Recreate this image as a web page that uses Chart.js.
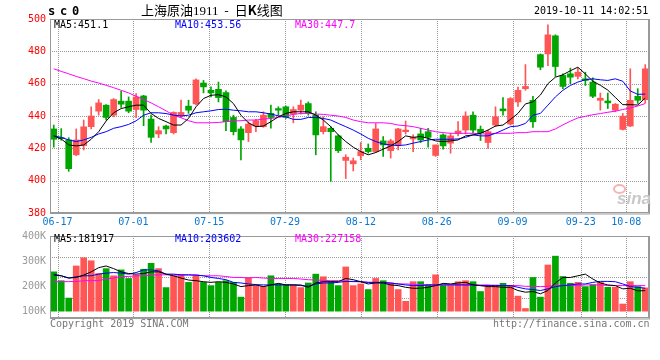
<!DOCTYPE html>
<html>
<head>
<meta charset="utf-8">
<script src="https://cdn.jsdelivr.net/npm/chart.js@4.4.1/dist/chart.umd.min.js"></script>
<style>
body { margin: 0; background: #fff; }
#wrap { position: relative; width: 660px; height: 360px; overflow: hidden; }
#wrap canvas { position: absolute; left: 0; }
.txt { position: absolute; white-space: nowrap; font-family: "DejaVu Sans Mono", monospace; font-size: 10px; line-height: 10px; }
</style>
</head>
<body>
<div id="wrap">
  <canvas id="kline" width="660" height="228" style="top:0"></canvas>
  <canvas id="vol" width="660" height="114" style="top:226px"></canvas>

  <div class="txt" style="left:48px;top:5px;font-size:12px;line-height:12px;font-weight:bold;letter-spacing:4.8px">sc0</div>
  <div class="txt" style="left:141px;top:3px;font-family:'Noto Sans CJK SC';font-size:13px;line-height:14px">上海原油<span style="font-family:'Liberation Serif'">1911</span> &nbsp;-&nbsp; 日<b>K</b>线图</div>
  <div class="txt" style="left:534px;top:6px">2019-10-11 14:02:51</div>

  <div class="txt" style="left:54px;top:20px;color:#000">MA5:451.1</div>
  <div class="txt" style="left:175px;top:20px;color:#0000ff">MA10:453.56</div>
  <div class="txt" style="left:295px;top:20px;color:#ff00ff">MA30:447.7</div>

  <div class="txt" style="left:54px;top:234px;color:#000">MA5:181917</div>
  <div class="txt" style="left:175px;top:234px;color:#0000ff">MA10:203602</div>
  <div class="txt" style="left:295px;top:234px;color:#ff00ff">MA30:227158</div>

  <div class="txt" style="left:50px;top:319px;color:#777">Copyright 2019 SINA.COM</div>
  <div class="txt" style="left:493px;top:319px;color:#777">http://finance.sina.com.cn</div>

  <div class="txt" style="left:613px;top:184px;width:9px;height:6px;border:2px solid #f4b4b4;border-radius:50%"></div>
  <div class="txt" style="left:617px;top:190px;font-family:'Liberation Sans';font-size:17px;line-height:17px;font-weight:bold;font-style:italic;color:#c8c8c8">sina</div>
</div>

<script>
Chart.defaults.font.family = '"DejaVu Sans Mono", monospace';
Chart.defaults.font.size = 10;

// trading days shown on the chart
const dates = ['06-14','06-17','06-18','06-19','06-20','06-21','06-24','06-25','06-26','06-27','06-28',
  '07-01','07-02','07-03','07-04','07-05','07-08','07-09','07-10','07-11','07-12','07-15','07-16','07-17',
  '07-18','07-19','07-22','07-23','07-24','07-25','07-26','07-29','07-30','07-31',
  '08-01','08-02','08-05','08-06','08-07','08-08','08-09','08-12','08-13','08-14','08-15','08-16','08-19',
  '08-20','08-21','08-22','08-23','08-26','08-27','08-28','08-29','08-30',
  '09-02','09-03','09-04','09-05','09-06','09-09','09-10','09-11','09-12','09-16','09-17','09-18','09-19',
  '09-20','09-23','09-24','09-25','09-26','09-27','09-30',
  '10-08','10-09','10-10','10-11'];
const tickDates = ['06-17','07-01','07-15','07-29','08-12','08-26','09-09','09-23','10-08'];

const open = [432,426.6,425.2,416,421.7,433.4,443,446.7,440.5,449.2,
  449.2,444,452.4,438.1,428.9,433.8,429.7,440.1,446.1,447.5,
  460.4,455.9,456.5,454.5,439.1,432,429.7,433.8,433.4,441.6,
  444.6,445.7,441.2,443.6,447.7,440.5,430.3,432.4,427.7,412.5,
  410.4,415.4,420,418,424.6,418.6,422.1,430.3,425.8,428.9,
  430.3,415.6,428.3,423.2,429.3,431.3,440.5,431.8,423.6,434.4,
  444.4,435,448.7,456.9,449.7,478,478.4,489.6,465.1,466.1,
  464.5,463,461,449.7,449.3,443.6,431.7,433.8,452.2,450.1];
const high = [434.4,432.2,426.6,432,437.5,445.7,450.2,447,450.8,455.3,
  451.8,453.9,452.8,440.5,433.4,434.4,442.6,449.8,449.8,463,
  462,458,461,455.5,440.5,433.4,436.5,437.9,442.6,446.7,
  445.7,446.1,445.7,449.8,448.7,442.6,439.5,433.4,428.3,416,
  414,423.6,422.7,435.4,427.3,425.6,432.4,436.9,428.3,432.4,
  432.4,422.1,428.9,429.3,436.5,442.6,442.6,433.8,431.3,445.7,
  451.4,451.4,457.9,471.8,452.2,478.4,496.4,490.2,466.1,469.6,
  469.6,467.1,463.6,454.2,454.2,447.7,441.6,469.2,456.9,471.8];
const low = [420.7,425,405.8,415.5,419,432,440.5,437.5,439.5,445.3,
  442,439,434,423.6,426.6,428.9,428.9,439.1,441.6,446.8,
  454.3,451.8,448.7,431,428.3,412.9,424.2,430.3,433,432.4,
  440.5,438.5,435.8,441.2,440.5,416,428.9,399.6,417.4,401.3,
  406,412.9,417,417.4,415,414,419,428.9,418,423.6,
  420.7,415,419.5,417,427.7,428.9,429.7,424.8,420,433.4,
  440.5,434.4,446,455.9,433,468.6,471.2,464.5,456.9,460,
  463,458.9,451.4,443.6,444.6,442.6,431.3,433.4,447.7,448];
const close = [425.6,426,407.4,425.2,433.3,440,448.1,439.1,450.2,447.3,
  443,451.8,443.6,426.8,430.9,432,442.2,442.2,443.6,462.3,
  458,454.3,451.4,436.5,430.3,425.2,435,437.1,440.5,439.1,
  443.6,439.1,444,446.7,442,428.3,433.4,430.3,418.6,414.5,
  412.3,418,418,432,422.1,424.6,432,431.3,426.8,425.2,
  426.8,422.1,421.5,427.7,430.7,440,431.3,429.7,430.3,439.5,
  443.2,450.8,455.9,458.3,436.4,470.2,490.2,470.6,458.3,464,
  467.1,462,452.2,451,448.1,447.3,439.9,449.7,449.7,469.2];

const ma5 = [427.7,425.8,422.1,421.5,422.1,425.6,430.3,436.9,442,444.6,
  445.7,446.7,446.7,441.6,438.5,436.5,434.4,434.4,438.5,445.7,
  450.8,452.8,453.2,451.8,447.7,440.5,435.8,433.4,433.8,436.5,
  439.5,441.6,442.6,442.6,442.6,440.5,437.5,433.4,428.3,424.2,
  420.7,418,416,417.4,419.5,421.5,424.2,427.7,426.8,427.3,
  426.2,424.6,424.2,424.6,425.2,427.7,428.3,429.3,431.3,433.8,
  434.4,437.9,441.6,447.5,448.7,453,460,464,465.5,468,
  470.2,466,461.5,459,456,451.5,447,447,446.8,451.1];
const ma10 = [427.7,426.8,425.2,424.2,425.2,426.8,428.9,430.3,432.4,433.4,
  434.8,437,440.5,442,442,441.5,440.5,440,440.5,442,
  442.6,443.2,444,444.2,443.6,443.2,442.6,442.6,442,441.2,
  440.1,439.5,437.9,437.9,439.1,439.1,438.5,437.5,435.4,433.4,
  431.3,428.9,426.2,424.2,422.7,422.1,421.7,422.1,423.2,424.2,
  425.2,425.6,425.6,425.6,425.8,426.8,428.3,427.7,427.7,429.3,
  431.3,433.4,433.8,435.4,440.5,441.6,446.7,451.8,455.9,458.9,
  461,462.4,463,462.4,462,463,461.5,455.5,453.4,453.56];
const ma30 = [469.2,467.6,466.1,464.5,463.1,461.6,460.4,459,457.5,455.9,
  454.3,452.2,450.2,448.1,445.7,443.2,440.5,438.9,437.1,435.8,
  435.8,435.8,436,436.5,436.9,437.1,437.5,437.5,438.1,438.5,
  439.1,440,441,441.6,441.6,441.2,441,440.5,440,439.1,
  437.5,436.5,435.8,435.8,435.8,435.4,434.4,434,433.4,432.4,
  431.3,430.3,429.7,429.3,429.3,429.3,429.3,428.9,428.9,429.3,
  429.3,429.3,429.7,429.7,430.3,430.3,430.3,432,434.5,436.8,
  438.8,439.8,440.8,441.5,442.3,443,444,445,446.2,447.7];

const volume = [256900,221600,152200,280400,313000,301200,250200,269800,241200,264700,
  230600,243900,267400,291000,269800,194100,241200,243900,214900,243900,
  214900,202000,214900,221600,214900,156100,234500,202000,199200,241200,
  208600,204700,204700,194100,212500,247800,237300,217600,202000,276500,
  202000,208600,186300,230600,221600,212500,186300,139200,217600,217600,
  204700,245100,202000,202000,217600,221600,217600,178400,195300,204700,
  211000,202000,160000,110600,234500,156100,284300,319600,238400,211000,
  214900,198000,205900,214900,195300,195300,128600,217600,198000,192900];
const volMa5 = [243900,241200,232200,234500,243900,256900,273700,280400,269800,256900,
  250200,247800,250200,256900,256900,247800,241200,232200,224300,221600,
  217600,214900,217600,214900,208600,198000,202000,204700,198000,204700,
  211000,204700,204700,204700,195300,212500,217600,217600,217600,230600,
  225500,217600,208600,212500,212500,204700,202000,195300,191400,191400,
  195300,202000,211000,208600,212500,214900,204700,202000,198000,198000,
  195300,195300,182400,175700,178400,169400,182400,212500,234500,234500,
  241200,247800,228200,212500,204700,202000,189000,191400,181200,181900];
const volMa10 = [247800,241200,232200,237300,241200,241200,247800,251800,254100,251800,
  247800,254100,264700,264700,260800,247800,247800,245100,245100,243900,
  241200,234500,230600,225500,214900,212500,208600,205900,204700,204700,
  204700,204700,204700,202000,199200,208600,212500,212500,214900,218800,
  218800,217600,214900,214900,214900,212500,208600,204700,202000,202000,
  204700,204700,204700,204700,204700,204700,204700,202000,202000,202000,
  202000,202000,195300,189000,186300,182400,189000,198000,202000,204700,
  208600,208600,214900,218800,218800,217600,208600,198000,195300,191400];
const volMa30 = [217600,217600,218000,218400,221600,221600,222000,228200,232200,238400,
  238400,241200,241200,243900,245100,245100,245100,243900,243900,243900,
  241200,241200,241200,238400,234500,234500,232200,234500,232200,230600,
  230600,230600,230600,228200,225500,224300,222800,221600,221600,218800,
  217600,217600,214900,214900,213700,211000,208600,208600,207300,205900,
  205300,204700,205300,205300,205300,205000,204700,204700,204700,202000,
  202000,202000,202000,199200,199200,198000,199200,202000,202000,202000,
  202000,204700,204700,204700,202000,202000,202000,202000,202000,202000];
const volTicks = [100000, 200000, 300000, 400000];

const upColor = '#ff5555';
const downColor = '#00a600';
const gridColor = '#999';
const candleColors = close.map((c, i) => c >= open[i] ? upColor : downColor);
const tickIndex = tickDates.map(d => dates.indexOf(d));

// dotted grid taken from the scales' own ticks, plus the grey panel frame
const panelGrid = {
  id: 'panelGrid',
  beforeDatasetsDraw(chart, args, opts) {
    const {ctx, chartArea: a} = chart;
    ctx.save();
    ctx.strokeStyle = gridColor;
    ctx.lineWidth = 1;
    ctx.setLineDash([1, 1]);
    ctx.beginPath();
    const ys = chart.scales[opts.yScale];
    ys.ticks.forEach(t => {
      const y = Math.round(ys.getPixelForValue(t.value)) + 0.5;
      if (y > a.top + 2 && y < a.bottom - 2) { ctx.moveTo(a.left, y); ctx.lineTo(a.right, y); }
    });
    const xs = chart.scales.xd;
    xs.ticks.forEach(t => {
      const x = Math.round(xs.getPixelForValue(t.value)) + 0.5;
      ctx.moveTo(x, a.top); ctx.lineTo(x, a.bottom);
    });
    ctx.stroke();
    ctx.restore();
  },
  afterDraw(chart) {
    const {ctx, chartArea: a} = chart;
    const l = Math.round(a.left), t = Math.round(a.top), r = Math.round(a.right), b = Math.round(a.bottom);
    ctx.save();
    ctx.strokeStyle = '#999';
    ctx.lineWidth = 1;
    ctx.strokeRect(l + 0.5, t + 0.5, r - l - 1, b - t - 1);
    ctx.beginPath();
    ctx.moveTo(r + 0.5, t);
    ctx.lineTo(r + 0.5, b + 1);
    ctx.lineTo(l, b + 0.5);
    ctx.stroke();
    ctx.restore();
  }
};

const maLine = (label, data, color) => ({
  type: 'line', label: label, data: data,
  borderColor: color, borderWidth: 1, pointRadius: 0, tension: 0, order: 0
});

// date ticks spread over the full panel width
const dateAxis = (showLabels) => ({
  type: 'linear', position: 'bottom', min: 0, max: dates.length - 1,
  bounds: 'data', offset: false,
  afterBuildTicks: (s) => { s.ticks = tickIndex.map(v => ({value: v})); },
  afterFit: (s) => { s.height = showLabels ? 15 : 0; },
  ticks: { display: showLabels, autoSkip: false, maxRotation: 0, padding: 3, color: '#0a78d2',
    callback: (v) => dates[v] },
  grid: { display: false, drawTicks: false },
  border: { display: false }
});

// price panel
new Chart(document.getElementById('kline'), {
  type: 'bar',
  data: {
    labels: dates,
    datasets: [
      maLine('MA5', ma5, '#000000'),
      maLine('MA10', ma10, '#0000ff'),
      maLine('MA30', ma30, '#ff00ff'),
      {
        label: 'body', data: open.map((o, i) => [o, close[i]]),
        backgroundColor: candleColors, barThickness: 6, minBarLength: 1,
        grouped: false, borderWidth: 0, order: 1
      },
      {
        label: 'wick', data: low.map((l, i) => [l, high[i]]),
        backgroundColor: candleColors, barThickness: 1,
        grouped: false, borderWidth: 0, order: 2
      }
    ]
  },
  options: {
    responsive: false,
    animation: false,
    layout: { padding: { top: 19, right: 11, left: 0, bottom: 0 } },
    plugins: { legend: { display: false }, tooltip: { enabled: false }, panelGrid: { yScale: 'y' } },
    scales: {
      x: { display: false, offset: true },
      xd: dateAxis(true),
      y: {
        min: 380, max: 500,
        afterFit: (s) => { s.width = 50; },
        ticks: { stepSize: 20, color: '#ff0000', padding: 4 },
        grid: { display: false, drawTicks: false },
        border: { display: false }
      }
    }
  },
  plugins: [panelGrid]
});

// volume panel
new Chart(document.getElementById('vol'), {
  type: 'bar',
  data: {
    labels: dates,
    datasets: [
      maLine('MA5', volMa5, '#000000'),
      maLine('MA10', volMa10, '#0000ff'),
      maLine('MA30', volMa30, '#ff00ff'),
      {
        label: 'volume', data: volume, base: volTicks[0],
        backgroundColor: candleColors, barThickness: 6,
        borderWidth: 0, order: 1
      }
    ]
  },
  options: {
    responsive: false,
    animation: false,
    layout: { padding: { top: 8, right: 11, left: 0, bottom: 22 } },
    plugins: { legend: { display: false }, tooltip: { enabled: false }, panelGrid: { yScale: 'yg' } },
    scales: {
      x: { display: false, offset: true },
      xd: dateAxis(false),
      y: {
        min: 72700, max: 400000,
        afterFit: (s) => { s.width = 50; },
        afterBuildTicks: (s) => { s.ticks = volTicks.map(v => ({value: v})); },
        ticks: { color: '#999', padding: 4, callback: (v) => (v / 1000) + 'K' },
        grid: { display: false, drawTicks: false },
        border: { display: false }
      },
      yg: {
        position: 'right', min: 72700, max: 400000,
        afterFit: (s) => { s.width = 0; },
        afterBuildTicks: (s) => {
          const step = (s.max - s.min) / 4;
          s.ticks = [1, 2, 3].map(k => ({value: s.min + k * step}));
        },
        ticks: { display: false },
        grid: { display: false, drawTicks: false },
        border: { display: false }
      }
    }
  },
  plugins: [panelGrid]
});
</script>
</body>
</html>
